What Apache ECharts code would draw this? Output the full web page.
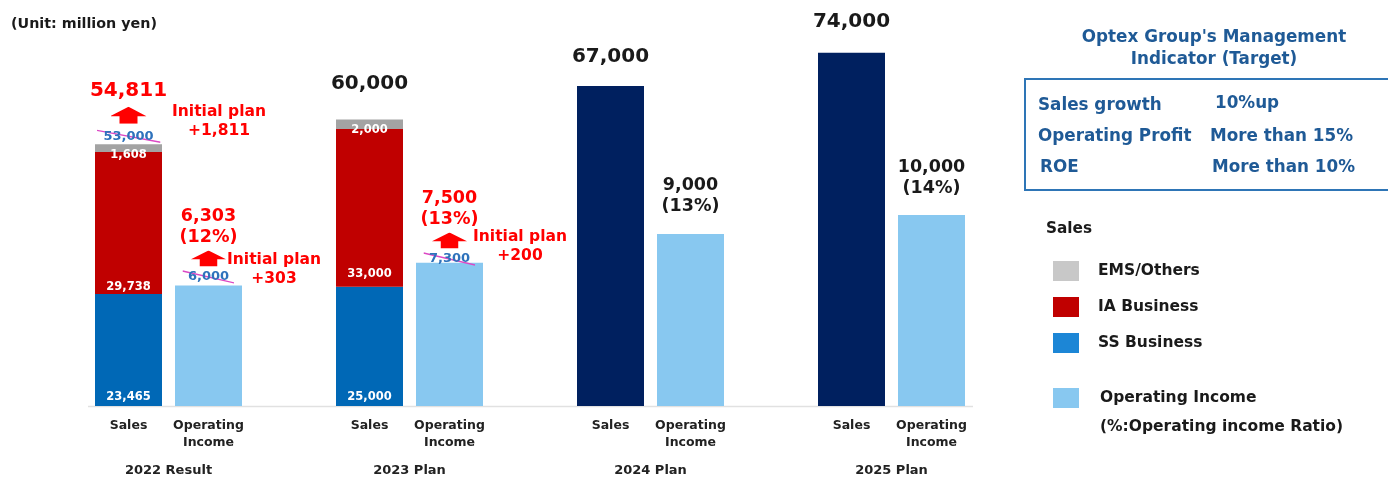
<!DOCTYPE html>
<html>
<head>
<meta charset="utf-8">
<script src="https://cdn.jsdelivr.net/npm/echarts@6/dist/echarts.min.js"></script>
<style>
  html, body { margin: 0; padding: 0; background: #fff; }
  #chart { width: 1388px; height: 479px; }
</style>
</head>
<body>
<div id="chart"></div>
<script>
// Fiscal periods on the category axis
const periods = ['2022 Result', '2023 Plan', '2024 Plan', '2025 Plan'];
// Bar captions shown under every period
const barCaptions = ['Sales', 'Operating\nIncome'];

// Sales by segment (million yen); the later plans only give a total
const ssBusiness = [23465, 25000, null, null];
const iaBusiness = [29738, 33000, null, null];
const emsOthers = [1608, 2000, null, null];
const salesPlan = [null, null, 67000, 74000];
const salesInitialPlan = [53000, null, null, null];

// Operating income (million yen) and operating income ratio (%)
const operatingIncome = [6303, 7500, 9000, 10000];
const operatingRatio = [12, 13, 13, 14];
const oiInitialPlan = [6000, 7300, null, null];

// Label gaps in pixels (styling only)
const totalLabelGap = [0, 25, 18, 20];
const oiLabelGap = [0.6, -4.3, 17.5, 16.5];
const iaLabelGap = [1, 7];
const emsLabelGap = [-3, -5];

const FONT = '"DejaVu Sans", Verdana, sans-serif';
const INK = '#1a1a1a';
const RED = '#FF0000';
const TEAL = '#1F5A96';
const OLD_BLUE = '#2E72BC';

const fmt = v => v.toLocaleString('en-US');
const sum = (...xs) => xs.reduce((a, b) => a + (b || 0), 0);
const salesTotal = periods.map((_, i) => sum(ssBusiness[i], iaBusiness[i], emsOthers[i], salesPlan[i]));
const orDash = a => a.map(v => (v == null ? '-' : v));

const svgUrl = s => 'data:image/svg+xml;charset=utf-8,' + encodeURIComponent(s);
// Red block arrow pointing up
const arrowImg = (w, h) => {
  const head = h * 0.55, l = w * 0.25, r = w * 0.75;
  return svgUrl(
    `<svg xmlns="http://www.w3.org/2000/svg" width="${w}" height="${h}" viewBox="0 0 ${w} ${h}">` +
    `<path d="M${w / 2} 0 L${w} ${head} L${r} ${head} L${r} ${h} L${l} ${h} L${l} ${head} L0 ${head} Z" fill="${RED}"/></svg>`);
};
// Slanted magenta stroke through a superseded figure
const strikeImg = (w, h) => svgUrl(
  `<svg xmlns="http://www.w3.org/2000/svg" width="${w}" height="${h}" viewBox="0 0 ${w} ${h}">` +
  `<line x1="0" y1="1" x2="${w}" y2="${h - 1}" stroke="#DC48C4" stroke-width="1.4"/></svg>`);

const txt = (size, color, lh) => ({ fontFamily: FONT, fontWeight: 'bold', fontSize: size, color, lineHeight: lh });

const richTotal = {
  tot: txt(20, INK, 22),
  totRed: txt(20, RED, 22),
  up: { width: 36, height: 17, lineHeight: 26, backgroundColor: { image: arrowImg(36, 17) } },
  old: Object.assign(txt(13, OLD_BLUE, 16), { width: 64, height: 14, align: 'center', backgroundColor: { image: strikeImg(64, 14) } })
};
const richOi = {
  v: txt(17.5, INK, 21),
  vRed: txt(17.5, RED, 21),
  up: { width: 35, height: 16, lineHeight: 21, backgroundColor: { image: arrowImg(35, 16) } },
  old: Object.assign(txt(13, OLD_BLUE, 16), { width: 52, height: 14, align: 'center', backgroundColor: { image: strikeImg(52, 14) } })
};

const inBarLabel = {
  show: true, position: 'insideBottom', color: '#fff',
  fontFamily: FONT, fontWeight: 'bold', fontSize: 11.5,
  formatter: p => fmt(p.value)
};

const noteLabel = {
  show: true, position: 'inside', color: RED, align: 'center', verticalAlign: 'middle',
  fontFamily: FONT, fontWeight: 'bold', fontSize: 15.5, lineHeight: 19
};
// "Initial plan" note placed beside a bar, offset measured from the bar's top centre
const notePoint = (i, value, diff, offset) => ({
  coord: [periods[i], value], value: diff,
  label: Object.assign({}, noteLabel, { offset, formatter: 'Initial plan\n+' + fmt(diff) })
});
const markerBase = { silent: true, symbol: 'rect', symbolSize: 1, itemStyle: { color: 'rgba(0,0,0,0)' } };

const BAR_W = 67, BAR_GAP = '19.4%';
const bar = extra => Object.assign({
  type: 'bar', barWidth: BAR_W, barGap: BAR_GAP, emphasis: { disabled: true }, animation: false
}, extra);

// Sales / Operating Income captions laid out under each bar pair
const captionLines = barCaptions.map(c => c.split('\n'));
const captionRows = Math.max(...captionLines.map(l => l.length));
let captionText = '';
for (let r = 0; r < captionRows; r++) {
  captionText += `{s|${captionLines[0][r] || ''}}{o|${captionLines[1][r] || ''}}\n`;
}

const chart = echarts.init(document.getElementById('chart'), null, { renderer: 'canvas' });

chart.setOption({
  animation: false,
  backgroundColor: '#fff',
  grid: { left: 48, right: 376, top: 24, bottom: 73, outerBoundsMode: 'none', containLabel: false },
  xAxis: {
    type: 'category', data: periods,
    axisLine: { show: false }, axisTick: { show: false }, splitLine: { show: false },
    axisLabel: {
      interval: 0, margin: 11.5,
      formatter: name => captionText + `{y|${name}}`,
      rich: {
        s: Object.assign(txt(12.5, '#222', 17), { width: 80, align: 'center' }),
        o: Object.assign(txt(12.5, '#222', 17), { width: 80, align: 'center' }),
        y: Object.assign(txt(13, '#222', 39), { width: 160, align: 'center' })
      }
    }
  },
  yAxis: [
    { type: 'value', min: 0, max: 80000, show: false },
    { type: 'value', min: 0, max: 20000, show: false }
  ],
  legend: [
    {
      orient: 'vertical', left: 1048, top: 256, itemWidth: 26, itemHeight: 20, itemGap: 16,
      icon: 'rect', selectedMode: false,
      formatter: '{t|{name}}',
      textStyle: { rich: { t: Object.assign(txt(15.5, INK, 20), { padding: [0, 0, 0, 14] }) } },
      data: [
        { name: 'EMS/Others', itemStyle: { color: '#C8C8C8' } },
        { name: 'IA Business', itemStyle: { color: '#C00000' } },
        { name: 'SS Business', itemStyle: { color: '#1C86D6' } }
      ]
    },
    {
      orient: 'vertical', left: 1048, top: 383, itemWidth: 26, itemHeight: 20,
      icon: 'rect', selectedMode: false,
      formatter: '{t|{name}}',
      textStyle: { rich: { t: Object.assign(txt(15.5, INK, 20), { padding: [0, 0, 0, 16] }) } },
      data: [{ name: 'Operating Income', itemStyle: { color: '#88C8F0' } }]
    }
  ],
  graphic: [
    { type: 'line', z: 0, shape: { x1: 88, y1: 406.5, x2: 973, y2: 406.5 }, style: { stroke: '#E1E1E1', lineWidth: 1.5 } },
    { type: 'text', x: 11, y: 24, style: { text: '(Unit: million yen)', fontFamily: FONT, fontWeight: 'bold', fontSize: 14.3, fill: INK, verticalAlign: 'middle' } },
    { type: 'text', x: 1214, y: 49, style: { text: "Optex Group's Management\nIndicator (Target)", align: 'center', verticalAlign: 'middle', lineHeight: 22, fontFamily: FONT, fontWeight: 'bold', fontSize: 16.8, fill: TEAL } },
    { type: 'rect', shape: { x: 1025, y: 79, width: 420, height: 111 }, style: { fill: 'none', stroke: '#2E75B6', lineWidth: 2 } },
    { type: 'text', x: 1038, y: 106, style: { text: 'Sales growth', verticalAlign: 'middle', fontFamily: FONT, fontWeight: 'bold', fontSize: 16.8, fill: TEAL } },
    { type: 'text', x: 1038, y: 137, style: { text: 'Operating Profit', verticalAlign: 'middle', fontFamily: FONT, fontWeight: 'bold', fontSize: 16.8, fill: TEAL } },
    { type: 'text', x: 1040, y: 168, style: { text: 'ROE', verticalAlign: 'middle', fontFamily: FONT, fontWeight: 'bold', fontSize: 16.8, fill: TEAL } },
    { type: 'text', x: 1215, y: 104, style: { text: '10%up', verticalAlign: 'middle', fontFamily: FONT, fontWeight: 'bold', fontSize: 16.8, fill: TEAL } },
    { type: 'text', x: 1210, y: 137, style: { text: 'More than 15%', verticalAlign: 'middle', fontFamily: FONT, fontWeight: 'bold', fontSize: 16.8, fill: TEAL } },
    { type: 'text', x: 1212, y: 168, style: { text: 'More than 10%', verticalAlign: 'middle', fontFamily: FONT, fontWeight: 'bold', fontSize: 16.8, fill: TEAL } },
    { type: 'text', x: 1046, y: 229, style: { text: 'Sales', verticalAlign: 'middle', fontFamily: FONT, fontWeight: 'bold', fontSize: 15.3, fill: INK } },
    { type: 'text', x: 1100, y: 427, style: { text: '(%:Operating income Ratio)', verticalAlign: 'middle', fontFamily: FONT, fontWeight: 'bold', fontSize: 15.5, fill: INK } }
  ],
  series: [
    bar({
      name: 'SS Business', stack: 'sales', itemStyle: { color: '#0068B6' },
      data: orDash(ssBusiness),
      label: Object.assign({}, inBarLabel, { distance: 3 })
    }),
    bar({
      name: 'IA Business', stack: 'sales', itemStyle: { color: '#C00000' },
      data: iaBusiness.map((v, i) => (v == null ? '-' : { value: v, label: { distance: iaLabelGap[i] } })),
      label: inBarLabel
    }),
    bar({
      name: 'EMS/Others', stack: 'sales', itemStyle: { color: '#A3A3A3' },
      data: emsOthers.map((v, i) => (v == null ? '-' : { value: v, label: { distance: emsLabelGap[i] } })),
      label: Object.assign({}, inBarLabel, { position: 'bottom' })
    }),
    bar({
      name: 'Sales', stack: 'sales', itemStyle: { color: '#00205F' },
      data: orDash(salesPlan)
    }),
    bar({
      // zero-height cap on each sales stack carrying the total
      name: 'Sales total', stack: 'sales', itemStyle: { color: 'rgba(0,0,0,0)' },
      data: salesTotal.map((_, i) => ({ value: 0, label: { distance: totalLabelGap[i] } })),
      label: {
        show: true, position: 'top', rich: richTotal,
        formatter: p => {
          const i = p.dataIndex, plan = salesInitialPlan[i];
          if (plan == null) return `{tot|${fmt(salesTotal[i])}}`;
          return `{totRed|${fmt(salesTotal[i])}}\n{up|}\n{old|${fmt(plan)}}`;
        }
      },
      markPoint: Object.assign({}, markerBase, {
        data: salesInitialPlan
          .map((plan, i) => (plan == null ? null : notePoint(i, salesTotal[i], salesTotal[i] - plan, [90.5, -23])))
          .filter(Boolean)
      })
    }),
    bar({
      name: 'Operating Income', yAxisIndex: 1, itemStyle: { color: '#88C8F0' },
      data: operatingIncome.map((v, i) => ({ value: v, label: { distance: oiLabelGap[i] } })),
      label: {
        show: true, position: 'top', rich: richOi,
        formatter: p => {
          const i = p.dataIndex, plan = oiInitialPlan[i];
          const head = plan == null ? 'v' : 'vRed';
          let s = `{${head}|${fmt(operatingIncome[i])}}\n{${head}|(${operatingRatio[i]}%)}`;
          if (plan != null) s += `\n{up|}\n{old|${fmt(plan)}}`;
          return s;
        }
      },
      markPoint: Object.assign({}, markerBase, {
        data: oiInitialPlan
          .map((plan, i) => (plan == null ? null : notePoint(i, operatingIncome[i], operatingIncome[i] - plan, i === 0 ? [65.5, -16.6] : [70.5, -15.8])))
          .filter(Boolean)
      })
    })
  ]
});
</script>
</body>
</html>
